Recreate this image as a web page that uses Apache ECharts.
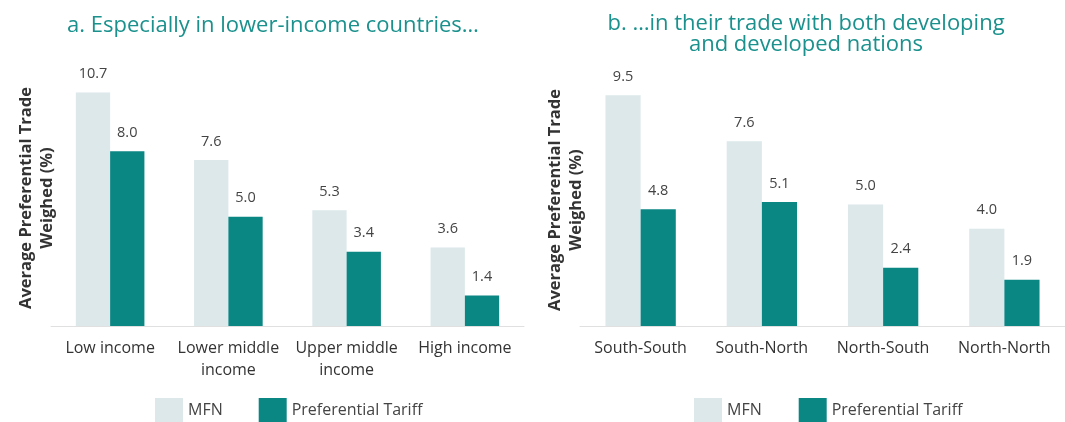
<!DOCTYPE html>
<html><head><meta charset="utf-8">
<script src="https://cdn.jsdelivr.net/npm/echarts@6/dist/echarts.min.js"></script>
<style>html,body{margin:0;padding:0;background:#fff;}#c{width:1065px;height:422px;}</style>
</head><body><div id="c"></div>
<script>
const catsA = ['Low income', 'Lower middle\nincome', 'Upper middle\nincome', 'High income'];
const mfnA = [10.7, 7.6, 5.3, 3.6];
const prefA = [8.0, 5.0, 3.4, 1.4];
const catsB = ['South-South', 'South-North', 'North-South', 'North-North'];
const mfnB = [9.5, 7.6, 5.0, 4.0];
const prefB = [4.8, 5.1, 2.4, 1.9];
const titleA = 'a. Especially in lower-income countries…';
const titleB = 'b. …in their trade with both developing\nand developed nations';
const yName = 'Average Preferential Trade\nWeighed (%)';

const TEAL = '#0a8683', MFN = '#dce8ea', FONT = 'Open Sans';
const chart = echarts.init(document.getElementById('c'));
const lbl = {show: true, position: 'top', distance: 11, color: '#444', fontSize: 14.5, fontFamily: FONT, formatter: p => p.value.toFixed(1)};
function xa(i, cats) {
  return {type: 'category', gridIndex: i, data: cats,
    axisLine: {lineStyle: {color: '#e0e0e0', width: 1}}, axisTick: {show: false},
    axisLabel: {color: '#333', fontSize: 16, fontFamily: FONT, lineHeight: 22, margin: 11, interval: 0}};
}
function ya(i, max) {
  return {type: 'value', gridIndex: i, min: 0, max: max, splitLine: {show: false},
    axisLine: {show: false}, axisTick: {show: false}, axisLabel: {show: false},
    name: yName, nameLocation: 'middle', nameRotate: 90, nameGap: -7,
    nameTextStyle: {color: '#333', fontSize: 16.5, fontWeight: 'bold', fontFamily: FONT, lineHeight: 21,
      padding: i === 0 ? [0, 6, 0, 0] : [0, 0, 0, 9]}};
}
function bar(name, data, i, color) {
  return {name: name, type: 'bar', xAxisIndex: i, yAxisIndex: i, data: data,
    barGap: '0%', barCategoryGap: '42%', itemStyle: {color: color}, label: lbl, silent: true};
}
const legTxt = {color: '#444', fontSize: 16, fontFamily: FONT};
chart.setOption({
  animation: false,
  title: [
    {text: titleA, left: 268, top: 10, textAlign: 'center', textStyle: {color: '#1a918d', fontSize: 22, fontWeight: 'normal', fontFamily: FONT}},
    {text: titleB, left: 801, top: 8, textAlign: 'center', textStyle: {color: '#1a918d', fontSize: 22, fontWeight: 'normal', fontFamily: FONT, lineHeight: 21}}
  ],
  legend: [
    {data: ['MFN', 'Preferential Tariff'], left: 155, top: 398, itemWidth: 28, itemHeight: 24, itemGap: 36, icon: 'rect', padding: 0,
     textStyle: legTxt},
    {data: ['MFN ', 'Preferential Tariff '], left: 694, top: 398, itemWidth: 28, itemHeight: 24, itemGap: 37, icon: 'rect', padding: 0,
     textStyle: legTxt, formatter: n => n.trim()}
  ],
  grid: [
    {left: 51, width: 473, top: 64, bottom: 96},
    {left: 580, right: 0, top: 83, bottom: 96}
  ],
  xAxis: [xa(0, catsA), xa(1, catsB)],
  yAxis: [ya(0, 12), ya(1, 10)],
  series: [
    bar('MFN', mfnA, 0, MFN), bar('Preferential Tariff', prefA, 0, TEAL),
    bar('MFN ', mfnB, 1, MFN), bar('Preferential Tariff ', prefB, 1, TEAL)
  ]
});
</script></body></html>
